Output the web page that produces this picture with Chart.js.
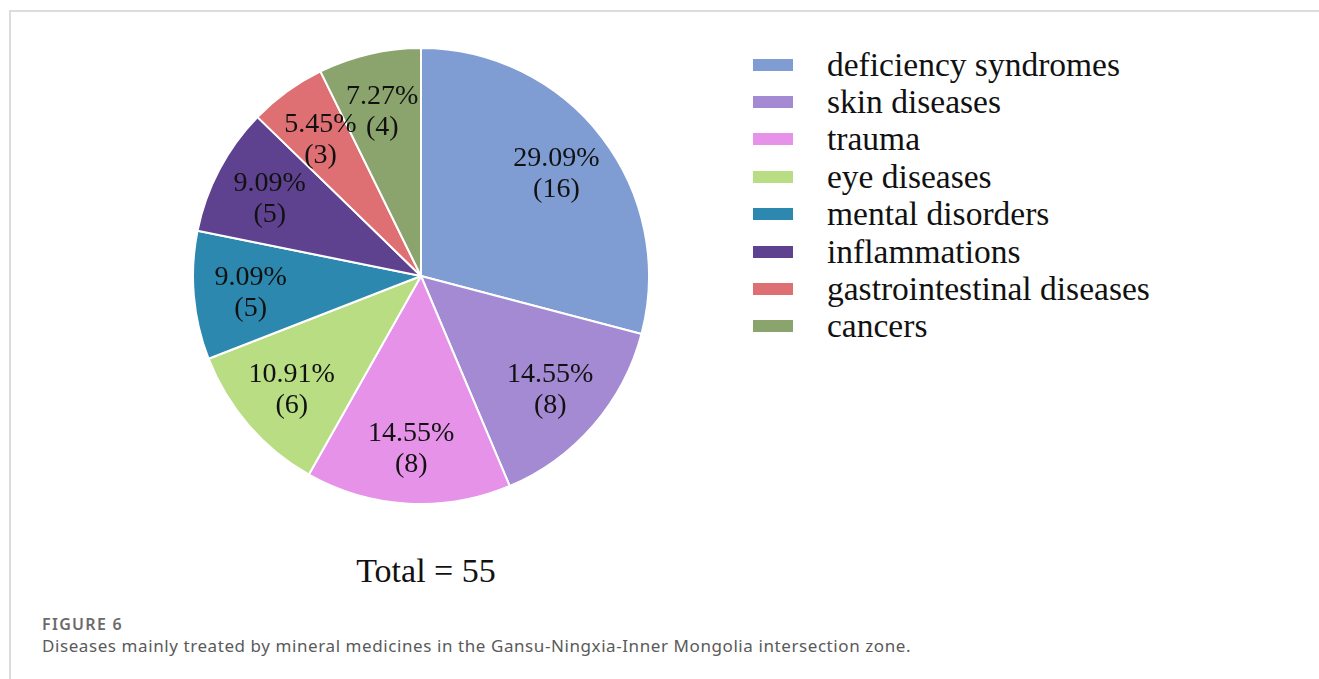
<!DOCTYPE html>
<html>
<head>
<meta charset="utf-8">
<script src="https://cdn.jsdelivr.net/npm/chart.js@4"></script>
<style>
  body { margin: 0; background: #fff; width: 1319px; height: 679px; position: relative; overflow: hidden; }
  .frame { position: absolute; left: 9px; top: 10px; width: 1400px; height: 700px; border-top: 2px solid #dcdcdc; border-left: 2px solid #dcdcdc; }
  #wrap { position: absolute; left: 192px; top: 47px; width: 458px; height: 458px; }
  #legend { position: absolute; left: 753px; top: 46px; font-family: "Liberation Serif", "Times New Roman", serif; font-size: 33.5px; color: #111; }
  #legend .row { height: 37.4px; display: flex; align-items: center; position: relative; }
  #legend .box { width: 40px; height: 12px; margin-right: 34px; }
  .total { position: absolute; left: 0; width: 852px; top: 552px; text-align: center; font-family: "Liberation Serif", "Times New Roman", serif; font-size: 34px; color: #111; }
  .fig { position: absolute; left: 42px; top: 613px; font-family: "Noto Sans", sans-serif; font-size: 16px; font-weight: 600; letter-spacing: 1.3px; color: #6b6b6b; }
  .cap { position: absolute; left: 42px; top: 634px; font-family: "Noto Sans", sans-serif; font-size: 17px; letter-spacing: 0.58px; color: #5a5a5a; }
</style>
</head>
<body>
<div class="frame"></div>
<div id="wrap"><canvas id="pieChart"></canvas></div>
<div id="legend"></div>
<div class="total">Total = 55</div>
<div class="fig">FIGURE 6</div>
<div class="cap">Diseases mainly treated by mineral medicines in the Gansu-Ningxia-Inner Mongolia intersection zone.</div>
<script>
const diseases = ['deficiency syndromes', 'skin diseases', 'trauma', 'eye diseases',
  'mental disorders', 'inflammations', 'gastrointestinal diseases', 'cancers'];
const counts = [16, 8, 8, 6, 5, 5, 3, 4];
const percents = ['29.09%', '14.55%', '14.55%', '10.91%', '9.09%', '9.09%', '5.45%', '7.27%'];
const colors = ['#7f9dd3', '#a38ad3', '#e592e8', '#b9dd83', '#2c88ae', '#5f428f', '#de6f73', '#8ba36d'];

// labels inside each slice: percent on one line, count in brackets below
const sliceLabels = {
  id: 'sliceLabels',
  afterDatasetsDraw(chart) {
    const ctx = chart.ctx;
    const arcs = chart.getDatasetMeta(0).data;
    ctx.save();
    ctx.font = '28px "Liberation Serif", "Times New Roman", serif';
    ctx.fillStyle = '#111';
    ctx.textAlign = 'center';
    ctx.textBaseline = 'middle';
    arcs.forEach((arc, i) => {
      const mid = (arc.startAngle + arc.endAngle) / 2;
      const r = arc.outerRadius * 0.75;
      const x = arc.x + Math.cos(mid) * r;
      const y = arc.y + Math.sin(mid) * r;
      ctx.fillText(percents[i], x, y - 13);
      ctx.fillText('(' + counts[i] + ')', x, y + 18);
    });
    ctx.restore();
  }
};

new Chart(document.getElementById('pieChart'), {
  type: 'pie',
  data: {
    labels: diseases,
    datasets: [{
      data: counts,
      backgroundColor: colors,
      borderColor: '#fff',
      borderWidth: 2
    }]
  },
  options: {
    responsive: true,
    maintainAspectRatio: false,
    animation: false,
    layout: { padding: 0 },
    plugins: {
      legend: { display: false },
      tooltip: { enabled: false }
    }
  },
  plugins: [sliceLabels]
});

const legend = document.getElementById('legend');
diseases.forEach((name, i) => {
  const row = document.createElement('div');
  row.className = 'row';
  row.innerHTML = '<span class="box" style="background:' + colors[i] + '"></span><span>' + name + '</span>';
  legend.appendChild(row);
});
</script>
</body>
</html>
